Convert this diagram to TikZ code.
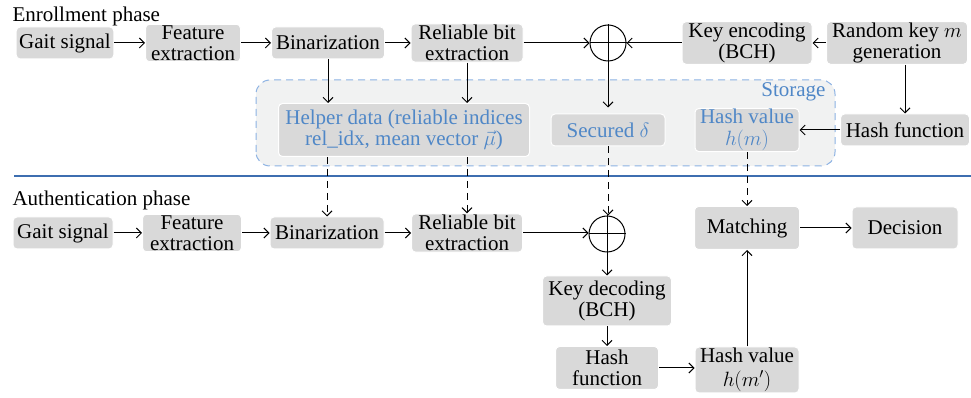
\documentclass[tikz,border=0pt]{standalone}
\usepackage{fontspec}
\setmainfont{Liberation Serif}
\usetikzlibrary{arrows.meta}
\definecolor{grey85}{rgb}{0.85,0.85,0.85}
\definecolor{grey95}{rgb}{0.945,0.949,0.949}
\definecolor{storeblue}{rgb}{0.55,0.70,0.89}
\definecolor{textblue}{rgb}{0.31,0.53,0.78}
\definecolor{lineblue}{rgb}{0.24,0.43,0.69}

\begin{document}
\begin{tikzpicture}[>={Straight Barb[length=5bp,width=10bp]},line join=bevel,line width=1bp,
    blk/.style={draw=white,fill=grey85,rounded corners=4bp,align=center,inner xsep=3bp,inner ysep=1bp,minimum height=32bp,font=\fontsize{21bp}{21.5bp}\selectfont},
    xor/.style={draw=black,circle,minimum size=36bp,inner sep=0pt},
    lbl/.style={anchor=west,inner sep=0pt,font=\fontsize{21bp}{21.5bp}\selectfont},
    dsh/.style={dash pattern=on 7bp off 5bp}]
      \useasboundingbox (0bp,0bp) rectangle (971bp,398bp);
      %%
      \begin{scope}
        \filldraw [draw=storeblue,fill=grey95,dsh,rounded corners=14bp] (256bp,232bp) -- (256bp,318bp) -- (835bp,318bp) -- (835bp,232bp) -- cycle;
      \end{scope}
      \draw [lineblue,line width=1.2bp] (14bp,222bp) -- (971bp,222bp);
      \node (enr) at (12bp,382bp) [lbl] {Enrollment phase};
      \node (aut) at (12bp,198bp) [lbl] {Authentication phase};
      \node (sto) at (826bp,306bp) [lbl,anchor=east,text=textblue] {Storage};
      % enrollment
      \node (g1) at (65bp,355bp) [blk,minimum width=96bp] {Gait signal};
      \node (f1) at (193bp,355bp) [blk,minimum width=95bp] {Feature\\extraction};
      \node (b1) at (328bp,355bp) [blk,minimum width=113bp] {Binarization};
      \node (r1) at (467bp,355bp) [blk,minimum width=112bp] {Reliable bit\\extraction};
      \node (x1) at (608bp,355bp) [xor] {};
      \node (enc) at (747bp,355bp) [blk,minimum width=130bp] {Key encoding\\(BCH)};
      \node (rnd) at (897bp,355bp) [blk,minimum width=141bp] {Random key $m$\\generation};
      \node (hf1) at (905bp,268bp) [blk,minimum width=129bp] {Hash function};
      \node (help) at (404bp,268bp) [blk,minimum width=251bp,minimum height=53bp,text=textblue] {Helper data (reliable indices\\rel\_idx, mean vector $\vec{\mu}$)};
      \node (sec) at (608bp,268bp) [blk,minimum width=114bp,text=textblue] {Secured $\delta$};
      \node (hv1) at (747bp,268bp) [blk,minimum width=104bp,minimum height=43bp,text=textblue] {Hash value\\$h(m)$};
      % authentication
      \node (g2) at (63bp,165bp) [blk,minimum width=100bp] {Gait signal};
      \node (f2) at (192bp,165bp) [blk,minimum width=99bp] {Feature\\extraction};
      \node (b2) at (327bp,165bp) [blk,minimum width=114bp] {Binarization};
      \node (r2) at (467bp,165bp) [blk,minimum width=111bp] {Reliable bit\\extraction};
      \node (x2) at (607bp,164bp) [xor] {};
      \node (kd) at (607bp,97bp) [blk,minimum width=129bp,minimum height=50bp] {Key decoding\\(BCH)};
      \node (hf2) at (607bp,30bp) [blk,minimum width=103bp,minimum height=43bp] {Hash\\function};
      \node (hv2) at (747bp,28bp) [blk,minimum width=104bp,minimum height=46bp] {Hash value\\[2bp]$h(m')$};
      \node (mt) at (747bp,170bp) [blk,minimum width=105bp,minimum height=43bp] {Matching};
      \node (dc) at (905bp,170bp) [blk,minimum width=106bp,minimum height=42bp] {Decision};
      % xor crosses
      \draw (x1.north) -- (x1.south) (x1.west) -- (x1.east);
      \draw (x2.north) -- (x2.south) (x2.west) -- (x2.east);
      % enrollment arrows
      \draw [->] (g1) -- (f1);
      \draw [->] (f1) -- (b1);
      \draw [->] (b1) -- (r1);
      \draw [->] (r1) -- (x1);
      \draw [->] (enc) -- (x1);
      \draw [->] (rnd) -- (enc);
      \draw [->] (hf1.north |- rnd.south) -- (hf1.north);
      \draw [->] (hf1) -- (hv1);
      \draw [->] (b1.south) -- (b1.south |- help.north);
      \draw [->] (r1.south) -- (r1.south |- help.north);
      \draw [->, shorten >=6bp] (x1) -- (sec);
      % storage to authentication
      \draw [->,dsh] (help.south -| b2.north) -- (b2.north);
      \draw [->,dsh] (help.south -| r2.north) -- (r2.north);
      \draw [->,dsh] (sec.south) -- (sec.south |- x2.north);
      \draw [->,dsh] (hv1.south) -- (mt.north);
      % authentication arrows
      \draw [->] (g2) -- (f2);
      \draw [->] (f2) -- (b2);
      \draw [->] (b2) -- (r2);
      \draw [->] (r2.east) -- (r2.east -| x2.west);
      \draw [->] (x2) -- (kd);
      \draw [->] (kd) -- (hf2);
      \draw [->] (hf2.east) -- (hf2.east -| hv2.west);
      \draw [->] (hv2) -- (mt);
      \draw [->] (mt) -- (dc);
    \end{tikzpicture}
\end{document}
